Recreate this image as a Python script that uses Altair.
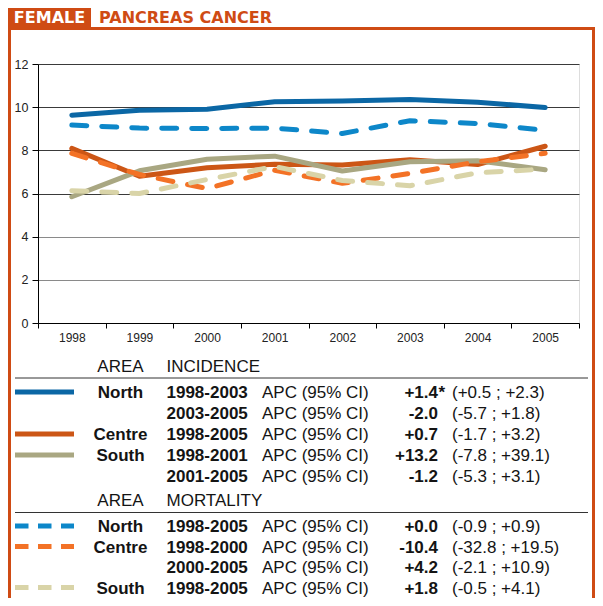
import altair as alt
import pandas as pd

# ---------------- data ----------------
years = [1998, 1999, 2000, 2001, 2002, 2003, 2004, 2005]
inc_north = [9.63, 9.86, 9.90, 10.25, 10.28, 10.35, 10.23, 9.98]
inc_centre = [8.09, 6.80, 7.19, 7.36, 7.32, 7.56, 7.34, 8.19]
inc_south = [5.85, 7.05, 7.59, 7.73, 7.04, 7.47, 7.52, 7.10]
mort_north = [9.17, 9.03, 9.01, 9.03, 8.78, 9.37, 9.24, 8.93]
mort_centre = [7.86, 6.88, 6.23, 7.08, 6.47, 6.93, 7.47, 7.86]
mort_south = [6.13, 6.00, 6.65, 7.25, 6.60, 6.36, 6.96, 7.13]
y_ticks = [0, 2, 4, 6, 8, 10, 12]

header_sex = "FEMALE"
header_site = "PANCREAS CANCER"
col_area = "AREA"
title_inc = "INCIDENCE"
title_mort = "MORTALITY"
apc_label = "APC (95% CI)"

inc_area = ["North", "", "Centre", "South", ""]
inc_period = ["1998-2003", "2003-2005", "1998-2005", "1998-2001", "2001-2005"]
inc_apc = ["+1.4", "-2.0", "+0.7", "+13.2", "-1.2"]
inc_sig = ["*", "", "", "", ""]
inc_ci = ["(+0.5 ; +2.3)", "(-5.7 ; +1.8)", "(-1.7 ; +3.2)", "(-7.8 ; +39.1)", "(-5.3 ; +3.1)"]

mort_area = ["North", "Centre", "", "South"]
mort_period = ["1998-2005", "1998-2000", "2000-2005", "1998-2005"]
mort_apc = ["+0.0", "-10.4", "+4.2", "+1.8"]
mort_sig = ["", "", "", ""]
mort_ci = ["(-0.9 ; +0.9)", "(-32.8 ; +19.5)", "(-2.1 ; +10.9)", "(-0.5 ; +4.1)"]

# ---------------- styles / layout ----------------
ORANGE = "#cf4b14"
TXT = "#141414"
FONT = "Liberation Sans"
HFONT = "DejaVu Sans"
styles = {
    "inc_north": ("#0b67a5", None),
    "inc_centre": ("#cc5616", None),
    "inc_south": ("#a9a782", None),
    "mort_north": ("#0d87c9", [15, 15]),
    "mort_centre": ("#f37226", [15, 15]),
    "mort_south": ("#d9d4a8", [15, 15]),
}
W, H = 541, 259
PX0, PY0 = 38, 64          # plot origin in page coordinates
SVG_W, SVG_H = 587, 590    # keeps the page free of scrolling
RIGHT = 8 + SVG_W          # right edge of the drawable page area
BOTTOM = 8 + SVG_H


def rx(p):
    return p - PX0


def ry(p):
    return p - PY0


inc_rows_y = [392, 413, 434, 455, 476]
mort_rows_y = [526, 546.5, 567, 587.5]
head_inc_y, head_mort_y = 366, 499.5
rule_inc_y, rule_mort_y = 378, 512.5

# ---------------- line chart ----------------
series_data = {
    "inc_north": inc_north, "inc_centre": inc_centre, "inc_south": inc_south,
    "mort_north": mort_north, "mort_centre": mort_centre, "mort_south": mort_south,
}
df = pd.DataFrame(
    [{"year": y, "value": v, "series": s} for s, vals in series_data.items() for y, v in zip(years, vals)]
)

xenc = alt.X(
    "year:O",
    scale=alt.Scale(type="band", paddingInner=0, paddingOuter=0),
    axis=alt.Axis(
        title=None, labelAngle=0, tickBand="extent", grid=False,
        domainColor="#000", tickColor="#000", tickSize=5, labelPadding=4,
        labelFont=FONT, labelFontSize=12, labelColor="#222",
    ),
)
yenc = alt.Y(
    "value:Q",
    scale=alt.Scale(domain=[0, 12], nice=False, zero=True),
    axis=alt.Axis(
        title=None, values=y_ticks, grid=True,
        gridColor={"condition": {"test": "datum.value <= 4", "value": "#8a8a8a"}, "value": "#3a3a3a"},
        gridWidth=1, domainColor="#000", tickColor="#000", tickSize=6, labelPadding=4,
        labelFont=FONT, labelFontSize=12.5, labelColor="#222",
    ),
)

line_layers = []
for s in series_data:
    col, dash = styles[s]
    kw = dict(stroke=col, strokeWidth=5, strokeCap="round", strokeJoin="round")
    if dash:
        kw["strokeDash"] = dash
    line_layers.append(
        alt.Chart(df).transform_filter(alt.datum.series == s).mark_line(**kw).encode(x=xenc, y=yenc)
    )
plot = alt.layer(*line_layers)

# ---------------- frame / header ----------------
frame_df = pd.DataFrame({"k": [0]})


def rect(x1, x2, y1, y2, color):
    return alt.Chart(frame_df).mark_rect(color=color).encode(
        x=alt.value(rx(x1)), x2=alt.value(rx(x2)), y=alt.value(ry(y1)), y2=alt.value(ry(y2))
    )


frame = [
    rect(8, 91, 8, 30, ORANGE),                    # FEMALE box
    rect(8, RIGHT, 27, 30, ORANGE),                # header underline
    rect(8, 11, 8, BOTTOM, ORANGE),                # left border
    rect(RIGHT - 3, RIGHT, 27, BOTTOM, ORANGE),    # right border
]
hdr_df = pd.DataFrame({"sex": [header_sex], "site": [header_site]})
header = [
    alt.Chart(hdr_df).mark_text(font=HFONT, fontWeight="bold", fontSize=16, color="white",
                                align="center", baseline="middle").encode(
        text="sex:N", x=alt.value(rx(49.5)), y=alt.value(ry(18))),
    alt.Chart(hdr_df).mark_text(font=HFONT, fontWeight="bold", fontSize=16, color=ORANGE,
                                align="left", baseline="middle").encode(
        text="site:N", x=alt.value(rx(99)), y=alt.value(ry(18))),
]

# ---------------- table ----------------
rows = []
for i in range(len(inc_area)):
    rows.append({"py": ry(inc_rows_y[i]) + 1, "area": inc_area[i], "period": inc_period[i],
                 "apc": inc_apc[i], "sig": inc_sig[i], "ci": inc_ci[i], "lab": apc_label})
for i in range(len(mort_area)):
    rows.append({"py": ry(mort_rows_y[i]) + 1, "area": mort_area[i], "period": mort_period[i],
                 "apc": mort_apc[i], "sig": mort_sig[i], "ci": mort_ci[i], "lab": apc_label})
tab = pd.DataFrame(rows)
heads = pd.DataFrame({"py": [ry(head_inc_y) + 1, ry(head_mort_y) + 1],
                      "area": [col_area, col_area], "title": [title_inc, title_mort]})

ypix = alt.Y("py:Q", scale=None, axis=None)


def tcol(data, field, xpos, align, bold=False):
    kw = dict(font=FONT, fontSize=17, color=TXT, align=align, baseline="middle")
    if bold:
        kw["fontWeight"] = "bold"
    return alt.Chart(data).mark_text(**kw).encode(text=f"{field}:N", x=alt.value(rx(xpos)), y=ypix)


table = [
    tcol(heads, "area", 120.5, "center"),
    tcol(heads, "title", 166.5, "left"),
    tcol(tab, "area", 120.5, "center", True),
    tcol(tab, "period", 166.5, "left", True),
    tcol(tab, "lab", 262, "left"),
    tcol(tab, "apc", 438, "right", True),
    tcol(tab, "sig", 438.5, "left", True),
    tcol(tab, "ci", 452, "left"),
]

rules_df = pd.DataFrame({"py": [ry(rule_inc_y), ry(rule_mort_y)]})
rules = alt.Chart(rules_df).mark_rule(color="#333", strokeWidth=1).encode(
    y=ypix, x=alt.value(rx(15)), x2=alt.value(rx(588)))

sw_names = ["inc_north", "inc_centre", "inc_south", "mort_north", "mort_centre", "mort_south"]
sw_y = [inc_rows_y[0], inc_rows_y[2], inc_rows_y[3], mort_rows_y[0], mort_rows_y[1], mort_rows_y[3]]
sw_df = pd.DataFrame({"series": sw_names, "py": [ry(v) for v in sw_y]})
cscale = alt.Scale(domain=sw_names, range=[styles[n][0] for n in sw_names])
sw_solid = alt.Chart(sw_df).transform_filter("indexof(datum.series, 'inc') == 0").mark_rule(
    strokeWidth=5).encode(y=ypix, x=alt.value(rx(15)), x2=alt.value(rx(74)),
                          color=alt.Color("series:N", scale=cscale, legend=None))
sw_dash = alt.Chart(sw_df).transform_filter("indexof(datum.series, 'mort') == 0").mark_rule(
    strokeWidth=5, strokeDash=[13.5, 9.5]).encode(y=ypix, x=alt.value(rx(15)), x2=alt.value(rx(74)),
                                                  color=alt.Color("series:N", scale=cscale, legend=None))

chart = alt.layer(*frame, *header, plot, *table, rules, sw_solid, sw_dash).properties(
    width=W, height=H,
    autosize=alt.AutoSizeParams(type="none"),
    padding={"left": PX0 - 8, "top": PY0 - 8, "right": SVG_W - (PX0 - 8) - W, "bottom": SVG_H - (PY0 - 8) - H},
).configure_view(stroke=None).configure(background="white")

chart.save("out.html", embed_options={"renderer": "svg", "actions": False})
